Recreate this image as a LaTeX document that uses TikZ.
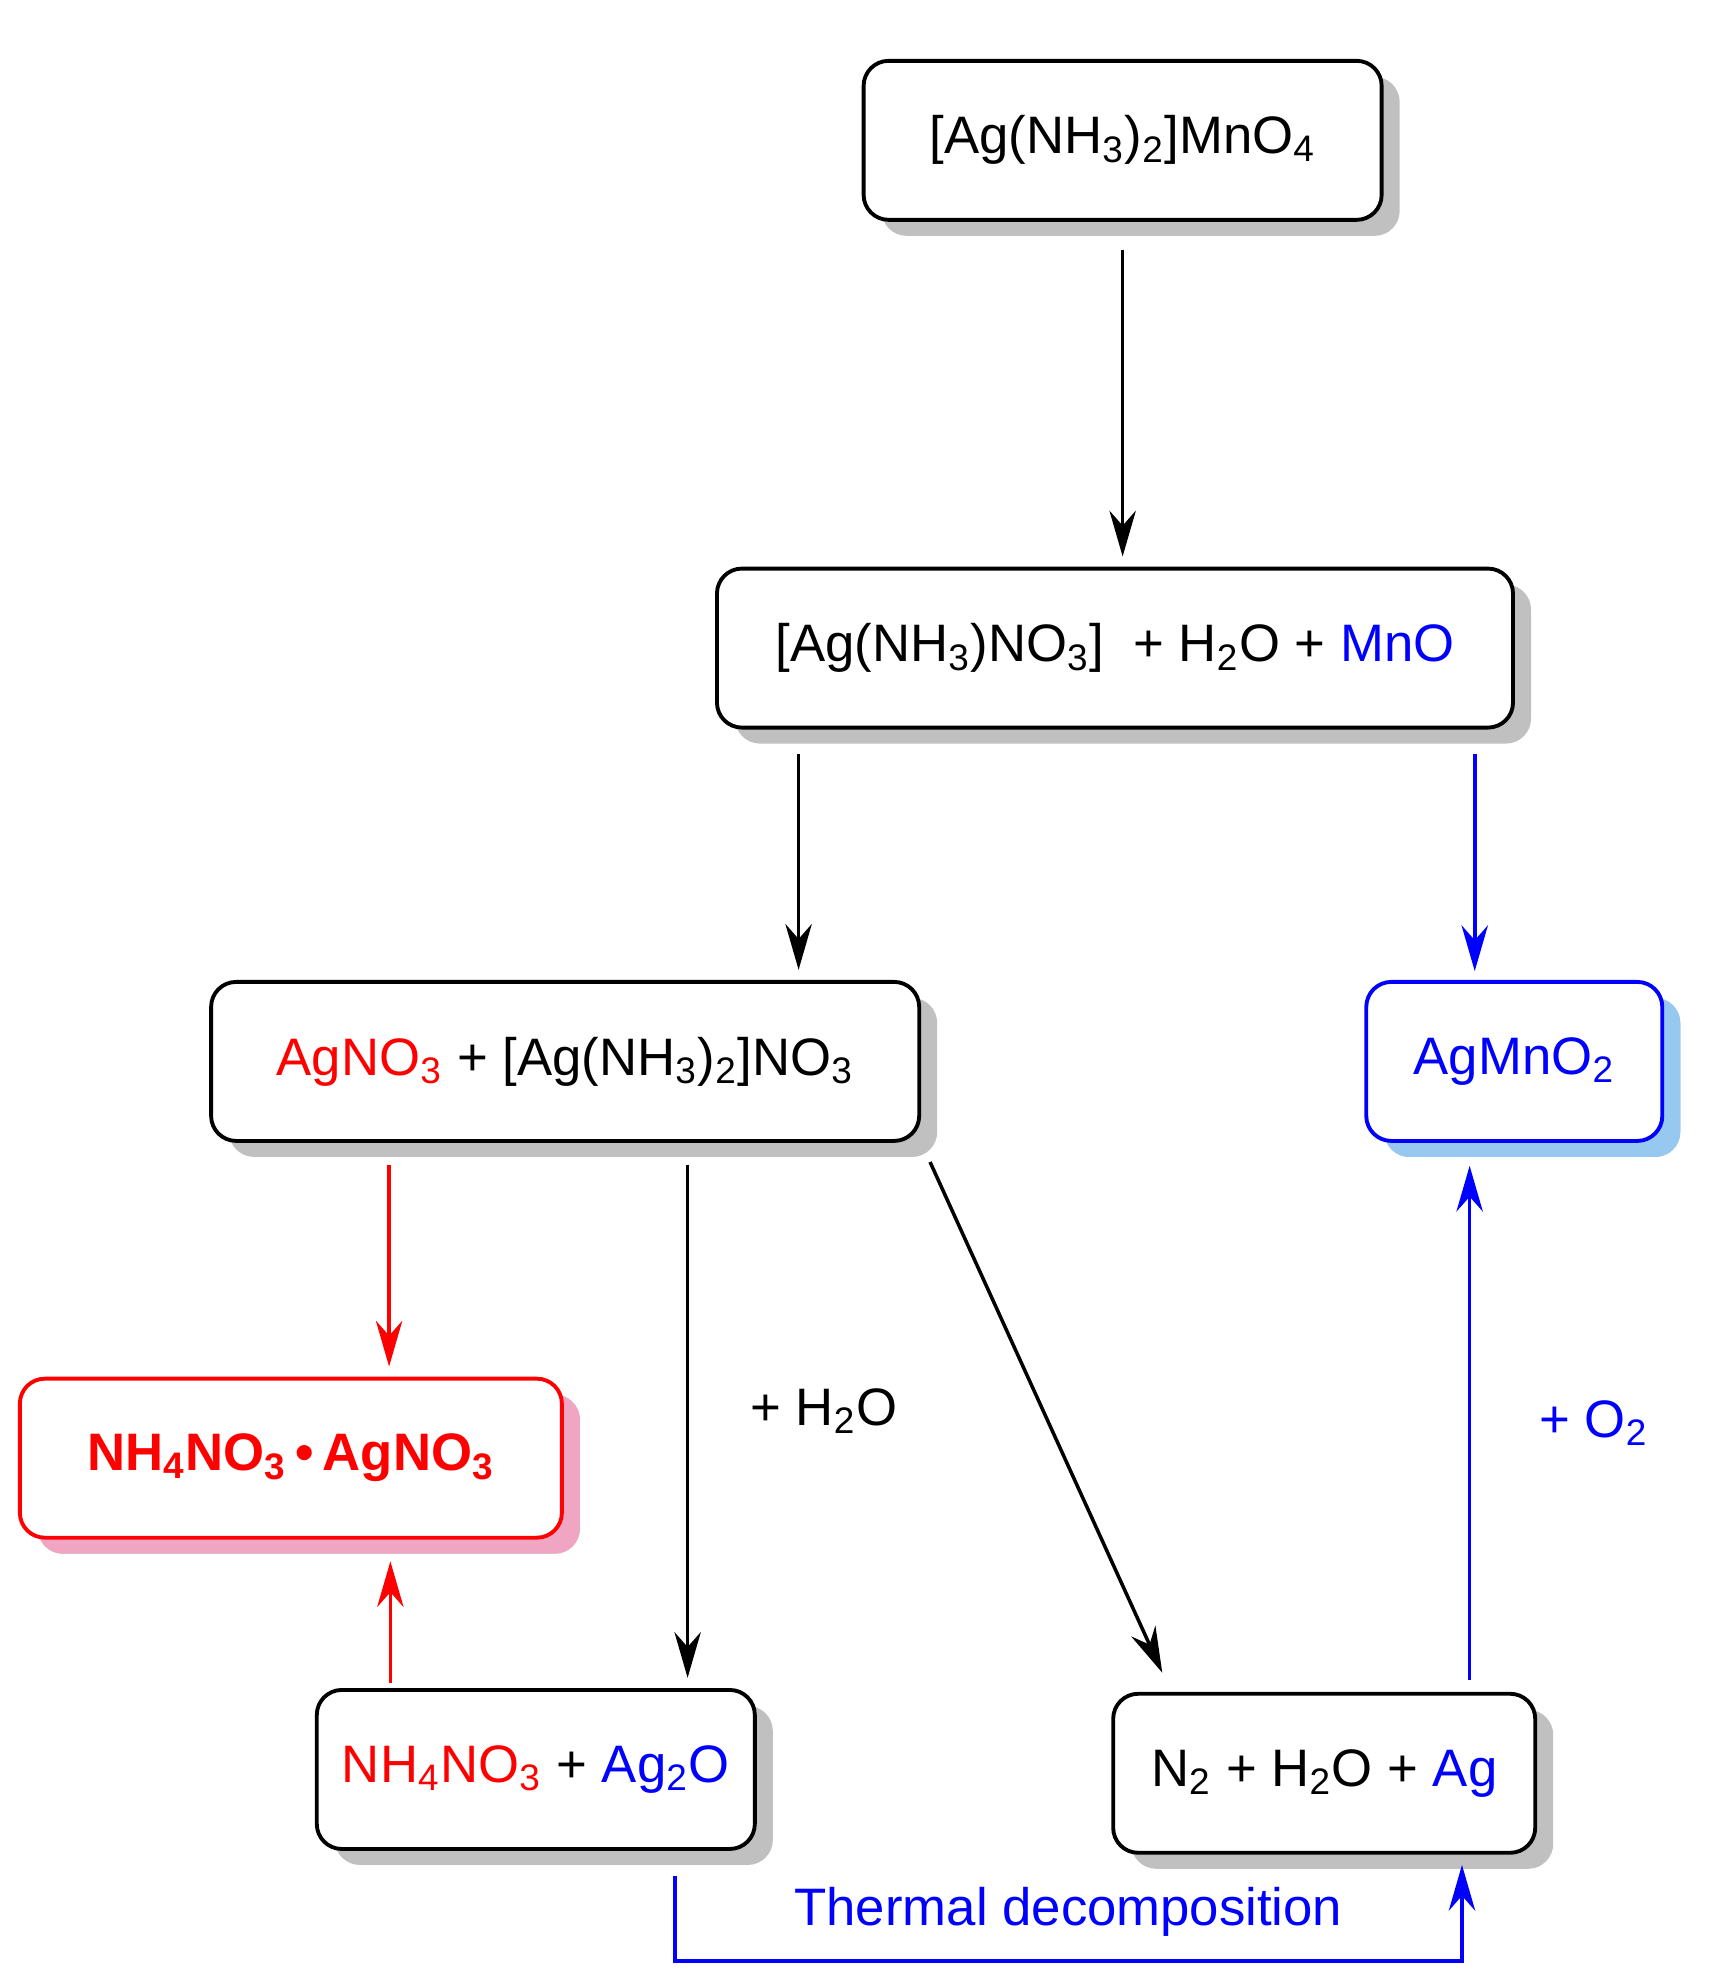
\documentclass[tikz,border=0pt]{standalone}
\usepackage{fontspec}
\setmainfont{Liberation Sans}
\usetikzlibrary{arrows.meta,shadows,calc}
\definecolor{shadowgray}{RGB}{192,192,192}
\definecolor{shadowblue}{RGB}{150,200,240}
\definecolor{shadowpink}{RGB}{240,165,195}
\newcommand{\sbs}[1]{\textsubscript{#1}}

\begin{document}
\begin{tikzpicture}[
    x=0.012756cm, y=-0.012756cm,
    every node/.style={font=\fontsize{15}{18}\selectfont},
    species/.style={
        rectangle,
        draw,
        line width=1.1pt,
        rounded corners=0.25cm,
        fill=white,
        minimum height=1.59cm,
        align=center,
        drop shadow={shadow xshift=0.18cm, shadow yshift=-0.16cm, fill=shadowgray, opacity=1}
    },
    arr/.style={-{Stealth[length=13pt,width=7.5pt]}, line width=1pt}
]
\useasboundingbox (0,0) rectangle (1350,1545);

% Species
\node[species, minimum width=5.18cm] (start) at (880,110) {[Ag(NH\sbs{3})\sbs{2}]MnO\sbs{4}};
\node[species, minimum width=7.96cm] (mix) at (874,508) {[Ag(NH\sbs{3})NO\sbs{3}]~~+ H\sbs{2}O + \textcolor{blue}{MnO}};
\node[species, minimum width=7.08cm] (nitrate) at (443,832) {\textcolor{red}{AgNO\sbs{3}} + [Ag(NH\sbs{3})\sbs{2}]NO\sbs{3}};
\node[species, minimum width=2.96cm, draw=blue,
      drop shadow={shadow xshift=0.18cm, shadow yshift=-0.16cm, fill=shadowblue, opacity=1}]
      (agmno) at (1187,832) {\textcolor{blue}{AgMnO\sbs{2}}};
\node[species, minimum width=5.42cm, draw=red,
      drop shadow={shadow xshift=0.18cm, shadow yshift=-0.16cm, fill=shadowpink, opacity=1}]
      (salt) at (228,1143) {\textcolor{red}{\bfseries NH\sbs{4}NO\sbs{3}\,\textbullet\,AgNO\sbs{3}}};
\node[species, minimum width=4.38cm] (oxide) at (420,1387) {\textcolor{red}{NH\sbs{4}NO\sbs{3}} + \textcolor{blue}{Ag\sbs{2}O}};
\node[species, minimum width=4.22cm] (gas) at (1038,1390) {N\sbs{2} + H\sbs{2}O + \textcolor{blue}{Ag}};

% Reactions
\draw[arr] ($(start.south)+(0,22)$) -- ($(mix.north)+(6,-8)$);
\draw[arr] (mix.south -| 626,0) ++(0,19) -- ($(nitrate.north -| 626,0)+(0,-8)$);
\draw[arr, blue] (mix.south -| 1156,0) ++(0,19) -- ($(agmno.north -| 1156,0)+(0,-7)$);
\draw[arr, red] (nitrate.south -| 305,0) ++(0,17) -- ($(salt.north -| 305,0)+(0,-8)$);
\draw[arr] (nitrate.south -| 539,0) ++(0,17) -- ($(oxide.north -| 539,0)+(0,-8)$)
    node[pos=0.48, right=14pt] {+ H\sbs{2}O};
\draw[arr] ($(nitrate.south east)+(7,15)$) -- ($(gas.north west)+(40,-15)$);
\draw[arr, red] (oxide.north -| 306,0) ++(0,-4) -- ($(salt.south -| 306,0)+(0,17)$);
\draw[arr, blue] (gas.north -| 1152,0) ++(0,-9) -- ($(agmno.south -| 1152,0)+(0,18)$)
    node[pos=0.5, right=16pt] {+ O\sbs{2}};

% Thermal decomposition
\coordinate (tdl) at (529,1537);
\coordinate (tdr) at (1146,1537);
\draw[arr, blue] ($(oxide.south -| 529,0)+(0,20)$) -- (tdl) -- (tdr)
    node[midway, above=3pt, text=blue] {Thermal decomposition}
    -- ($(gas.south -| 1146,0)+(0,8)$);
\end{tikzpicture}
\end{document}
